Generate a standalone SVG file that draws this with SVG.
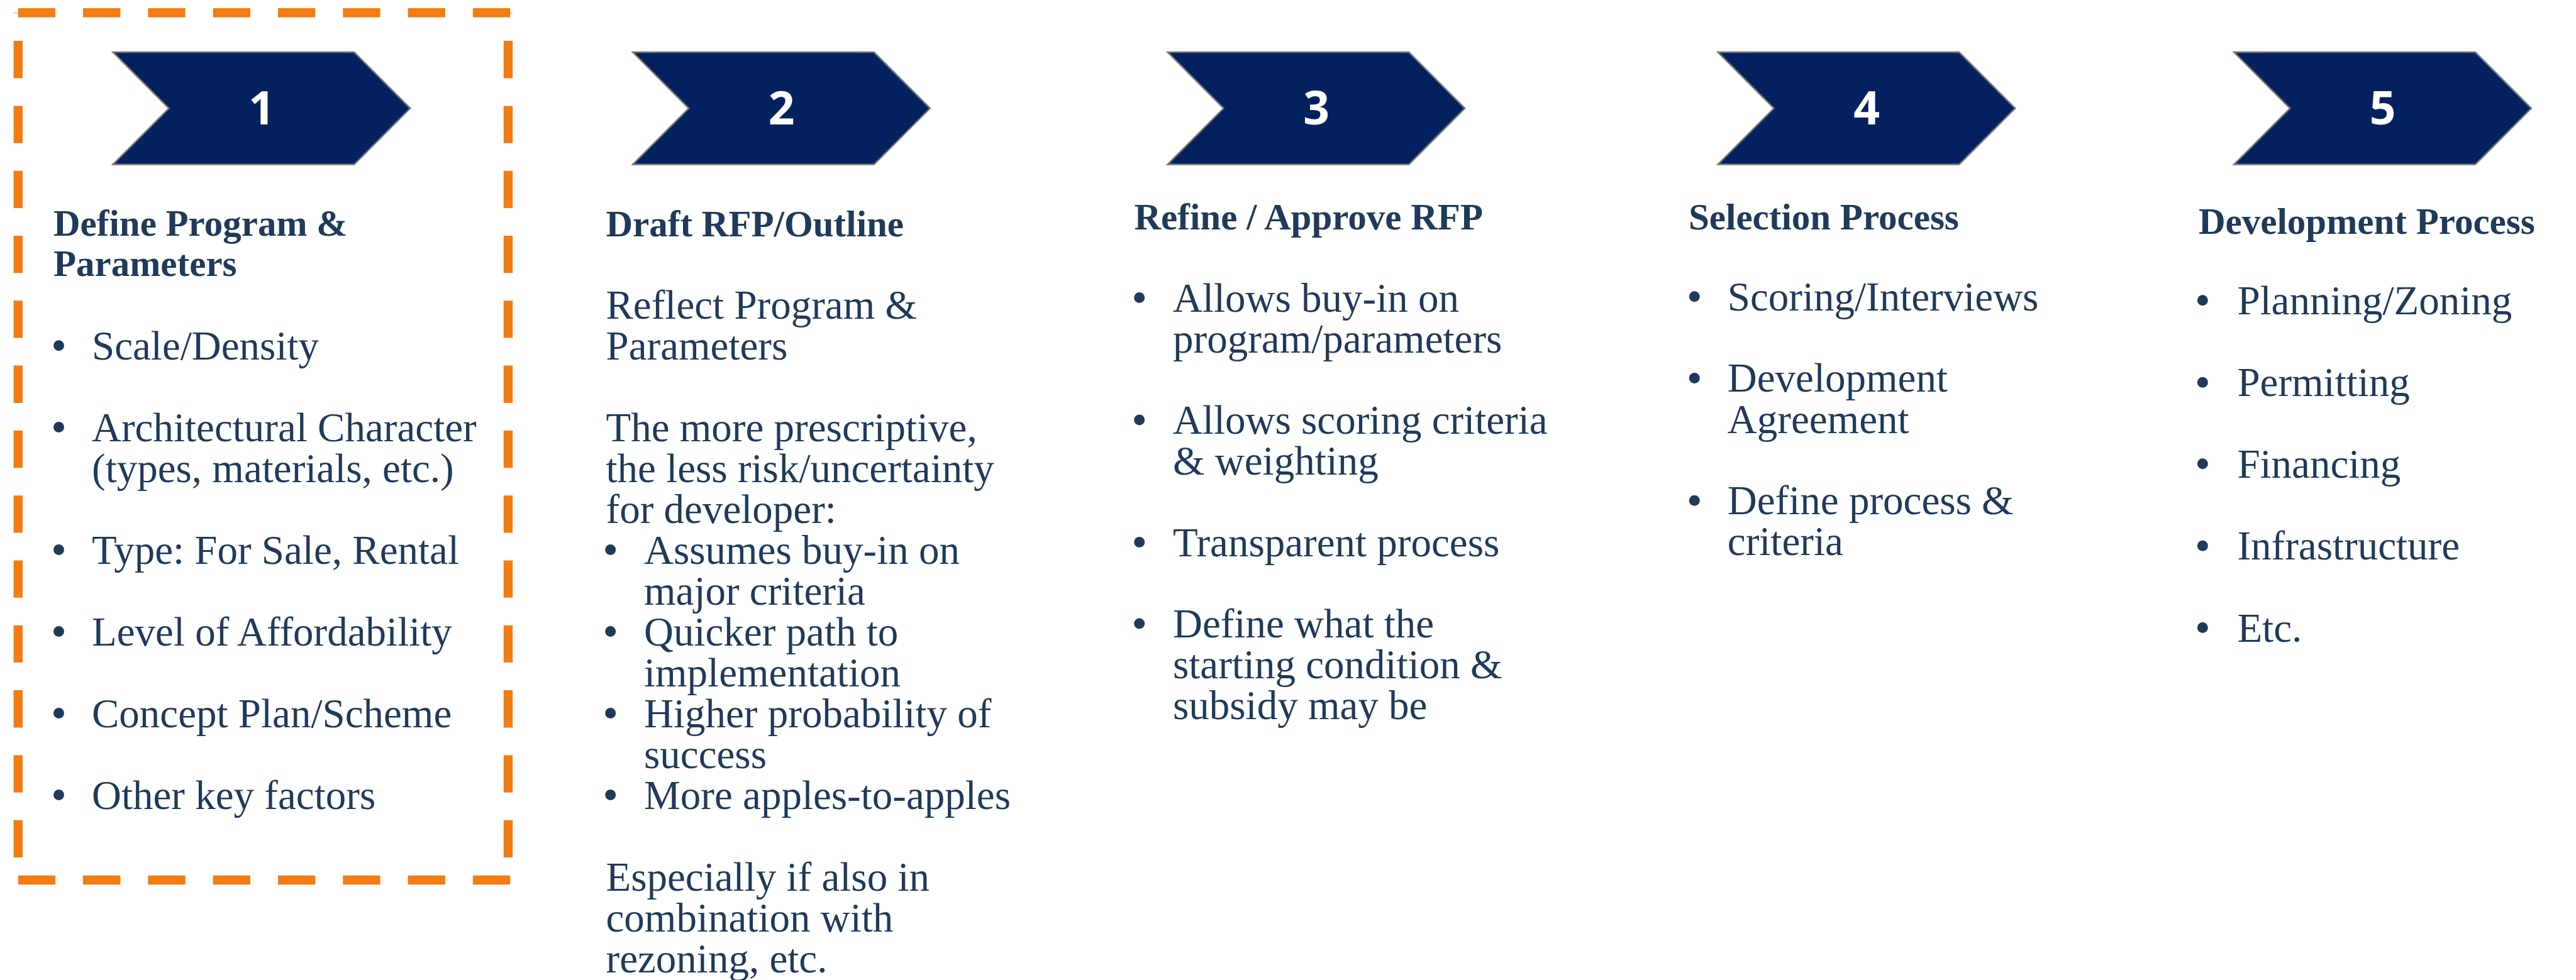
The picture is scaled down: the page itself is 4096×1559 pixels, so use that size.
<svg xmlns="http://www.w3.org/2000/svg" xmlns:xlink="http://www.w3.org/1999/xlink" width="4096" height="1559" viewBox="0 0 4096 1559">
  <style>
    .chev { fill: #03215E; stroke: #767676; stroke-width: 2.5; stroke-linejoin: miter; }
    .num { font-family: "Open Sans", "Liberation Sans", sans-serif; font-weight: 700; font-size: 73px; fill: #FFFFFF; text-anchor: middle; }
    .head { font-family: "Liberation Serif", "Times New Roman", serif; font-weight: 700; font-size: 59px; fill: #1F3A5A; }
    .body { font-family: "Liberation Serif", "Times New Roman", serif; font-size: 65px; fill: #1F3A5A; }
    .dot { fill: #1F3A5A; }
    .dash { fill: none; stroke: #F47C12; stroke-width: 14.4; stroke-dasharray: 59.3 44; }
  </style>
  <defs>
    <!-- chevron outline, origin at its top-left corner -->
    <polygon id="chevron" class="chev" points="0,0 383.6,0 472.6,89.3 383.6,178.6 0,178.6 89,89.3"/>
  </defs>

  <rect width="4096" height="1559" fill="#FFFFFF"/>

  <!-- orange dashed highlight around step 1 -->
  <g id="highlight">
    <line class="dash" x1="28.8" y1="20.3" x2="811.5" y2="20.3"/>
    <line class="dash" x1="28.8" y1="1400" x2="811.5" y2="1400"/>
    <line class="dash" x1="28.8" y1="20.3" x2="28.8" y2="1400" stroke-dashoffset="58.5"/>
    <line class="dash" x1="808" y1="20.3" x2="808" y2="1400" stroke-dashoffset="58.5"/>
  </g>

  <g id="connectors"/>

  <!-- Step 1 -->
  <g id="step1">
    <use xlink:href="#chevron" x="179.6" y="83"/>
    <text class="num" x="416" y="198.3">1</text>
    <text class="head" x="85" y="374.5">Define Program &amp;</text>
    <text class="head" x="85" y="439">Parameters</text>
    <circle class="dot" cx="93.5" cy="549.7" r="8.5"/>
    <text class="body" x="146" y="571.7">Scale/Density</text>
    <circle class="dot" cx="93.5" cy="679.5" r="8.5"/>
    <text class="body" x="146" y="701.5">Architectural Character</text>
    <text class="body" x="146" y="766.5">(types, materials, etc.)</text>
    <circle class="dot" cx="93.5" cy="874.5" r="8.5"/>
    <text class="body" x="146" y="896.5">Type: For Sale, Rental</text>
    <circle class="dot" cx="93.5" cy="1004.5" r="8.5"/>
    <text class="body" x="146" y="1026.5">Level of Affordability</text>
    <circle class="dot" cx="93.5" cy="1134.5" r="8.5"/>
    <text class="body" x="146" y="1156.5">Concept Plan/Scheme</text>
    <circle class="dot" cx="93.5" cy="1264.5" r="8.5"/>
    <text class="body" x="146" y="1286.5">Other key factors</text>
  </g>

  <!-- Step 2 -->
  <g id="step2">
    <use xlink:href="#chevron" x="1006.2" y="83"/>
    <text class="num" x="1242.5" y="198.3">2</text>
    <text class="head" x="963.5" y="376">Draft RFP/Outline</text>
    <text class="body" x="963.5" y="506.5">Reflect Program &amp;</text>
    <text class="body" x="963.5" y="571.5">Parameters</text>
    <text class="body" x="963.5" y="701.5">The more prescriptive,</text>
    <text class="body" x="963.5" y="766.5">the less risk/uncertainty</text>
    <text class="body" x="963.5" y="831.5">for developer:</text>
    <circle class="dot" cx="970.7" cy="874.5" r="8.5"/>
    <text class="body" x="1024" y="896.5">Assumes buy-in on</text>
    <text class="body" x="1024" y="961.5">major criteria</text>
    <circle class="dot" cx="970.7" cy="1004.5" r="8.5"/>
    <text class="body" x="1024" y="1026.5">Quicker path to</text>
    <text class="body" x="1024" y="1091.5">implementation</text>
    <circle class="dot" cx="970.7" cy="1134.5" r="8.5"/>
    <text class="body" x="1024" y="1156.5">Higher probability of</text>
    <text class="body" x="1024" y="1221.5">success</text>
    <circle class="dot" cx="970.7" cy="1264.5" r="8.5"/>
    <text class="body" x="1024" y="1286.5">More apples-to-apples</text>
    <text class="body" x="963.5" y="1416.5">Especially if also in</text>
    <text class="body" x="963.5" y="1481.5">combination with</text>
    <text class="body" x="963.5" y="1546.5">rezoning, etc.</text>
  </g>

  <!-- Step 3 -->
  <g id="step3">
    <use xlink:href="#chevron" x="1856.6" y="83"/>
    <text class="num" x="2093" y="198.3">3</text>
    <text class="head" x="1803.5" y="365">Refine / Approve RFP</text>
    <circle class="dot" cx="1811.7" cy="473.5" r="8.5"/>
    <text class="body" x="1865" y="495.5">Allows buy-in on</text>
    <text class="body" x="1865" y="560.5">program/parameters</text>
    <circle class="dot" cx="1811.7" cy="668" r="8.5"/>
    <text class="body" x="1865" y="690">Allows scoring criteria</text>
    <text class="body" x="1865" y="755">&amp; weighting</text>
    <circle class="dot" cx="1811.7" cy="862.5" r="8.5"/>
    <text class="body" x="1865" y="884.5">Transparent process</text>
    <circle class="dot" cx="1811.7" cy="992" r="8.5"/>
    <text class="body" x="1865" y="1014">Define what the</text>
    <text class="body" x="1865" y="1079">starting condition &amp;</text>
    <text class="body" x="1865" y="1144">subsidy may be</text>
  </g>

  <!-- Step 4 -->
  <g id="step4">
    <use xlink:href="#chevron" x="2731.6" y="83"/>
    <text class="num" x="2968" y="198.3">4</text>
    <text class="head" x="2685" y="365">Selection Process</text>
    <circle class="dot" cx="2694.3" cy="471.8" r="8.5"/>
    <text class="body" x="2746.8" y="493.8">Scoring/Interviews</text>
    <circle class="dot" cx="2694.3" cy="601.4" r="8.5"/>
    <text class="body" x="2746.8" y="623.4">Development</text>
    <text class="body" x="2746.8" y="688.6">Agreement</text>
    <circle class="dot" cx="2694.3" cy="796.2" r="8.5"/>
    <text class="body" x="2746.8" y="818.2">Define process &amp;</text>
    <text class="body" x="2746.8" y="883.4">criteria</text>
  </g>

  <!-- Step 5 -->
  <g id="step5">
    <use xlink:href="#chevron" x="3552.3" y="83"/>
    <text class="num" x="3788.6" y="198.3">5</text>
    <text class="head" x="3496" y="372">Development Process</text>
    <circle class="dot" cx="3502.3" cy="477.7" r="8.5"/>
    <text class="body" x="3557.4" y="499.7">Planning/Zoning</text>
    <circle class="dot" cx="3502.3" cy="608.2" r="8.5"/>
    <text class="body" x="3557.4" y="630.2">Permitting</text>
    <circle class="dot" cx="3502.3" cy="737.8" r="8.5"/>
    <text class="body" x="3557.4" y="759.8">Financing</text>
    <circle class="dot" cx="3502.3" cy="868.2" r="8.5"/>
    <text class="body" x="3557.4" y="890.2">Infrastructure</text>
    <circle class="dot" cx="3502.3" cy="998.6" r="8.5"/>
    <text class="body" x="3557.4" y="1020.6">Etc.</text>
  </g>
</svg>
